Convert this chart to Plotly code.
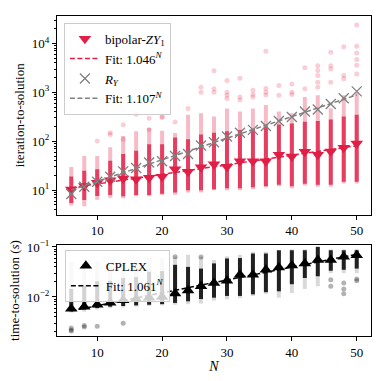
import numpy as np
import plotly.graph_objects as go

# system sizes
N = [6, 8, 10, 12, 14, 16, 18, 20, 22, 24, 26, 28, 30, 32, 34, 36, 38, 40, 42, 44, 46, 48, 50]

# bipolar-ZY1 medians (triangles)
zy_med = [10.3, 12.2, 14.2, 16, 17.4, 16.8, 18, 18.8, 27, 24, 29.5, 34, 30.2, 39, 39, 39,
          53, 49, 61, 53, 62, 74, 90]
# R_Y medians (crosses)
ry_med = [8.4, 11.8, 14.9, 18.8, 24.3, 28.4, 37, 39, 50, 55, 82, 96, 125, 150, 171, 206,
          260, 313, 405, 447, 580, 760, 1047]
# CPLEX medians (s)
cplex_med = [0.0058, 0.0064, 0.0070, 0.0077, 0.0086, 0.0090, 0.0097, 0.0100, 0.0118, 0.0135,
             0.0164, 0.019, 0.0212, 0.0279, 0.028, 0.0349, 0.039, 0.0424, 0.047, 0.055,
             0.055, 0.0637, 0.0687]

# bipolar-ZY1 sample clouds: faint extent, dense extent, sparse outliers
zy_lo = [4.9, 4.7, 6.4, 7.0, 6.9, 7.5, 7.5, 8, 8.1, 9, 9, 10, 10, 10, 10.5, 11.5, 12, 11,
         12.5, 11.8, 11.8, 13.8, 13.8]
zy_hi = [30, 50, 50, 76, 128, 161, 188, 165, 148, 347, 373, 320, 470, 405, 470, 550, 405,
         373, 800, 870, 475, 870, 1000]
zy_core_lo = [5.5, 6.3, 7.6, 8, 7.5, 8, 8, 8.5, 9, 10, 10, 10.5, 11, 11, 11.5, 12, 13, 12,
              13.5, 13, 13, 15, 15]
zy_core_hi = [19, 25, 27, 40, 55, 64, 87, 87, 120, 110, 138, 150, 160, 170, 180, 200, 220,
              230, 250, 260, 280, 320, 350]
zy_out = {
    10: [101], 12: [138, 150], 14: [110, 219], 16: [358], 18: [174, 296],
    20: [306, 321], 22: [247], 24: [470], 26: [1010, 1270], 28: [1010, 1180, 2750],
    30: [745, 870, 1000, 1740], 32: [700, 800, 1940], 34: [800, 900, 1100],
    36: [880, 1000, 1200, 6900], 38: [870, 1380], 40: [900, 1000, 1490],
    42: [1180, 3200], 44: [1270, 1600, 2200, 2800, 3500], 46: [1600, 3000, 3500, 6600],
    48: [1900, 2200, 8500], 50: [2360, 3600, 4700, 6400, 8700, 23700],
}

# CPLEX sample clouds
cp_lo = [0.0049, 0.0051, 0.0056, 0.006, 0.0062, 0.0064, 0.0066, 0.0068, 0.007, 0.0072,
         0.0074, 0.0085, 0.009, 0.0095, 0.0105, 0.0115, 0.0097, 0.012, 0.0145, 0.0164,
         0.03, 0.03, 0.03]
cp_hi = [0.05, 0.047, 0.05, 0.05, 0.05, 0.055, 0.06, 0.06, 0.064, 0.07, 0.064, 0.055, 0.065,
         0.07, 0.08, 0.08, 0.086, 0.09, 0.09, 0.105, 0.09, 0.09, 0.09]
cp_core_lo = [0.0052, 0.0056, 0.006, 0.0064, 0.0066, 0.0068, 0.007, 0.0072, 0.0076, 0.0082,
              0.0091, 0.0097, 0.0105, 0.0105, 0.0113, 0.0125, 0.013, 0.018, 0.024, 0.026,
              0.0335, 0.035, 0.037]
cp_core_hi = [0.0145, 0.0164, 0.0206, 0.021, 0.024, 0.025, 0.032, 0.033, 0.044, 0.04, 0.037,
              0.047, 0.059, 0.06, 0.074, 0.074, 0.086, 0.086, 0.086, 0.1, 0.086, 0.086, 0.086]
cp_out = {
    6: [0.0021, 0.0022, 0.0024], 8: [0.0025, 0.0027], 10: [0.0026], 14: [0.003],
    22: [0.064], 26: [0.063], 46: [0.0164, 0.022], 48: [0.0116, 0.0145, 0.019],
    50: [0.0212, 0.023],
}

zy_base, ry_base, cp_base = 1.046, 1.107, 1.061

RED = 'rgb(226,30,70)'
GREY = 'rgb(128,128,128)'
FONT = 'Liberation Serif, Times New Roman, serif'


def fit_curve(med, base):
    n = np.array(N, dtype=float)
    a = np.mean(np.log(med) - n * np.log(base))
    return np.exp(a) * base ** n


def segs(lo, hi):
    xs, ys = [], []
    for n, a, b in zip(N, lo, hi):
        xs += [n, n, None]
        ys += [a, b, None]
    return xs, ys


def outliers(d):
    xs, ys = [], []
    for n, vals in d.items():
        xs += [n] * len(vals)
        ys += vals
    return xs, ys


fig = go.Figure()

# ---- top panel ----
x, y = segs(zy_lo, zy_hi)
fig.add_trace(go.Scatter(x=x, y=y, mode='lines', line=dict(color='rgba(226,30,70,0.3)', width=4),
                         showlegend=False, hoverinfo='skip'))
x, y = segs(zy_core_lo, zy_core_hi)
fig.add_trace(go.Scatter(x=x, y=y, mode='lines', line=dict(color='rgba(226,30,70,0.8)', width=4),
                         showlegend=False, hoverinfo='skip'))
x, y = outliers(zy_out)
fig.add_trace(go.Scatter(x=x, y=y, mode='markers', marker=dict(color='rgba(226,30,70,0.22)', size=5),
                         showlegend=False, hoverinfo='skip'))

fig.add_trace(go.Scatter(x=N, y=zy_med, mode='markers', name='bipolar-<i>ZY</i><sub>1</sub>',
                         marker=dict(symbol='triangle-down', size=11, color=RED), legend='legend'))
fig.add_trace(go.Scatter(x=N, y=fit_curve(zy_med, zy_base), mode='lines',
                         name='Fit: 1.046<sup><i>N</i></sup>',
                         line=dict(color=RED, width=1.5, dash='5px,2.5px'), legend='legend'))
fig.add_trace(go.Scatter(x=N, y=ry_med, mode='markers', name='<i>R<sub>Y</sub></i>',
                         marker=dict(symbol='x-thin', size=10, line=dict(color=GREY, width=1.3)),
                         legend='legend'))
fig.add_trace(go.Scatter(x=N, y=fit_curve(ry_med, ry_base), mode='lines',
                         name='Fit: 1.107<sup><i>N</i></sup>',
                         line=dict(color=GREY, width=1.5, dash='5px,2.5px'), legend='legend'))

# ---- bottom panel ----
x, y = segs(cp_lo, cp_hi)
fig.add_trace(go.Scatter(x=x, y=y, mode='lines', line=dict(color='rgba(0,0,0,0.15)', width=4),
                         xaxis='x2', yaxis='y2', showlegend=False, hoverinfo='skip'))
x, y = segs(cp_core_lo, cp_core_hi)
fig.add_trace(go.Scatter(x=x, y=y, mode='lines', line=dict(color='rgba(0,0,0,0.85)', width=4),
                         xaxis='x2', yaxis='y2', showlegend=False, hoverinfo='skip'))
x, y = outliers(cp_out)
fig.add_trace(go.Scatter(x=x, y=y, mode='markers', marker=dict(color='rgba(0,0,0,0.3)', size=5),
                         xaxis='x2', yaxis='y2', showlegend=False, hoverinfo='skip'))
fig.add_trace(go.Scatter(x=N, y=cplex_med, mode='markers', name='CPLEX',
                         marker=dict(symbol='triangle-up', size=11, color='black'),
                         xaxis='x2', yaxis='y2', legend='legend2'))
fig.add_trace(go.Scatter(x=N, y=fit_curve(cplex_med, cp_base), mode='lines',
                         name='Fit: 1.061<sup><i>N</i></sup>',
                         line=dict(color='black', width=1.5, dash='5px,2.5px'),
                         xaxis='x2', yaxis='y2', legend='legend2'))

axis_common = dict(showline=True, mirror=True, linecolor='black', linewidth=1,
                   ticks='outside', ticklen=4, tickwidth=1, tickcolor='black',
                   showgrid=False, zeroline=False, tickfont=dict(size=13, family=FONT, color='black'))

legend_common = dict(bgcolor='rgba(255,255,255,0.8)', bordercolor='#cccccc', borderwidth=1,
                     font=dict(size=13, family=FONT, color='black'), xanchor='left', yanchor='top',
                     itemwidth=30, tracegroupgap=0)

fig.update_layout(
    width=381, height=381,
    margin=dict(l=57, r=9, t=9, b=45),
    plot_bgcolor='white', paper_bgcolor='white',
    font=dict(family=FONT, size=13, color='black'),
    xaxis=dict(domain=[0, 1], anchor='y', range=[3.8, 52.2], tickvals=[10, 20, 30, 40, 50],
               **axis_common),
    yaxis=dict(domain=[0.379, 1], anchor='x', type='log', range=[0.5, 4.56],
               tickvals=[10, 100, 1000, 10000],
               ticktext=['10<sup>1</sup>', '10<sup>2</sup>', '10<sup>3</sup>', '10<sup>4</sup>'],
               title=dict(text='iteration-to-solution', standoff=4, font=dict(size=13, family=FONT)),
               minor=dict(ticks='outside', ticklen=2, tickcolor='black',
                          tickvals=[float(m * 10 ** e) for e in range(0, 5) for m in range(2, 10)]),
               **axis_common),
    xaxis2=dict(domain=[0, 1], anchor='y2', range=[3.8, 52.2], tickvals=[10, 20, 30, 40, 50],
                title=dict(text='<i>N</i>', standoff=2, font=dict(size=14, family=FONT)), **axis_common),
    yaxis2=dict(domain=[0, 0.2844], anchor='x2', type='log', range=[-2.78, -0.96],
                tickvals=[0.01, 0.1], ticktext=['10<sup>−2</sup>', '10<sup>−1</sup>'],
                title=dict(text='time-to-solution (<i>s</i>)', standoff=4, font=dict(size=13, family=FONT)),
                minor=dict(ticks='outside', ticklen=2, tickcolor='black',
                           tickvals=[float(m * 10 ** e) for e in range(-3, 0) for m in range(2, 10)]),
                **axis_common),
    legend=dict(x=0.022, y=0.979, **legend_common),
    legend2=dict(x=0.025, y=0.269, **legend_common),
)

fig.write_html("out.html", config={'displayModeBar': False},
               post_script="document.body.style.margin='0';")
